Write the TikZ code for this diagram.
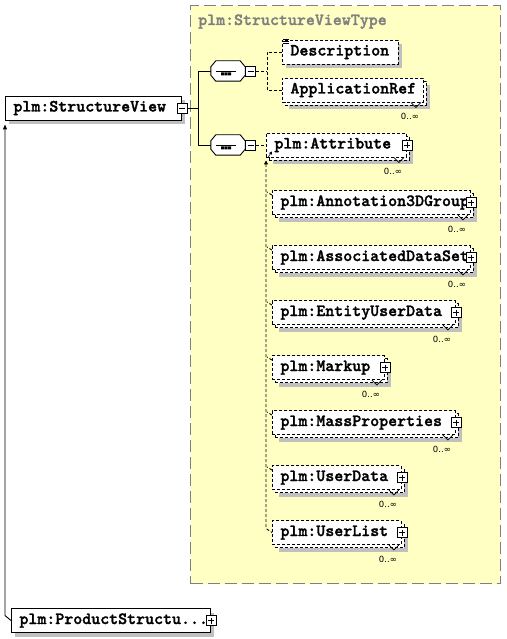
\documentclass[tikz,border=0pt]{standalone}
\usepackage{fontspec}
\newfontfamily\elemfont{lmmonolt10-bold.otf}[FakeBold=1.6]
\newfontfamily\cardfont{DejaVu Sans}
\usetikzlibrary{shadows,arrows.meta}

\definecolor{typefill}{HTML}{FFFFC4}
\definecolor{typeborder}{HTML}{808080}
\definecolor{shadowgray}{HTML}{C0C0C0}

\tikzset{
  optdash/.style={dash pattern=on 3pt off 2pt},
  elembox/.style={draw, fill=white, line width=0.9pt, minimum height=24pt,
    inner xsep=8pt, inner ysep=0pt, text height=11pt, text depth=4pt,
    text width=#1, align=left, anchor=west,
    font=\elemfont\fontsize{17.1}{18}\selectfont},
  onceelem/.style={elembox=#1,
    drop shadow={shadow xshift=4pt, shadow yshift=-4pt, opacity=1, fill=shadowgray}},
  optelem/.style={onceelem=#1, optdash},
  manyelem/.style={elembox=#1, optdash,
    drop shadow={shadow xshift=7pt, shadow yshift=-7pt, opacity=1, fill=shadowgray},
    copy shadow={shadow xshift=3pt, shadow yshift=-3pt, optdash, draw=black, fill=white}},
  togbox/.style={draw, solid, fill=white, line width=0.8pt, minimum size=10pt, inner sep=0pt},
  minusbox/.style={togbox, path picture={
    \draw[line width=0.8pt] ([xshift=2pt]path picture bounding box.west) -- ([xshift=-2pt]path picture bounding box.east);}},
  plusbox/.style={togbox, path picture={
    \draw[line width=0.8pt] ([xshift=2pt]path picture bounding box.west) -- ([xshift=-2pt]path picture bounding box.east);
    \draw[line width=0.8pt] ([yshift=-2pt]path picture bounding box.north) -- ([yshift=2pt]path picture bounding box.south);}},
  seqbox/.style={rectangle, minimum width=34pt, minimum height=20pt, inner sep=0pt},
  seqline/.style={draw, fill=white, line width=0.9pt},
  typebox/.style={draw=typeborder, fill=typefill, line width=1.3pt,
    dash pattern=on 12pt off 5pt, minimum width=310pt, minimum height=578pt, inner sep=0pt},
  typetitle/.style={text=typeborder, inner sep=0pt,
    font=\elemfont\fontsize{17.1}{18}\selectfont},
  card/.style={inner sep=0pt, font=\cardfont\fontsize{8.5}{10}\selectfont},
  notch/.style={line width=0.7pt},
  solidlink/.style={line width=0.9pt},
  optlink/.style={line width=0.9pt, optdash},
  reflink/.style={line width=0.9pt, -{Triangle[length=5pt,width=4pt]}}
}

% chamfered outline of a sequence compositor, with its shadow
\newcommand{\seqoutline}[1]{%
  \fill[shadowgray, shift={(4,4)}] ([xshift=5pt]#1.north west) -- ([xshift=-5pt]#1.north east) -- ([yshift=-6pt]#1.north east)
    -- ([yshift=6pt]#1.south east) -- ([xshift=-5pt]#1.south east) -- ([xshift=5pt]#1.south west)
    -- ([yshift=6pt]#1.south west) -- ([yshift=-6pt]#1.north west) -- cycle;
  \path[seqline] ([xshift=5pt]#1.north west) -- ([xshift=-5pt]#1.north east) -- ([yshift=-6pt]#1.north east)
    -- ([yshift=6pt]#1.south east) -- ([xshift=-5pt]#1.south east) -- ([xshift=5pt]#1.south west)
    -- ([yshift=6pt]#1.south west) -- ([yshift=-6pt]#1.north west) -- cycle;
  \draw[line width=0.9pt] ([xshift=-12pt]#1.center) -- ([xshift=8pt]#1.center);
  \fill ([shift={(-7pt,-1.5pt)}]#1.center) rectangle ++(3,3)
        ([shift={(-3.5pt,-1.5pt)}]#1.center) rectangle ++(3,3)
        ([shift={(0pt,-1.5pt)}]#1.center) rectangle ++(3,3);}

\begin{document}
\begin{tikzpicture}[x=1pt, y=-1pt]
  \useasboundingbox (0,0) rectangle (506,639);

  % Complex type area
  \node[typebox, anchor=north west] (svtype) at (190,5) {};
  \node[typetitle, anchor=base west] (svtypetitle) at (198,25) {plm:StructureViewType};

  % Root element
  \node[onceelem=160pt] (sv) at (5,108) {plm:StructureView};
  \node[minusbox] (svtog) at (sv.east) {};

  % Sequence compositors
  \node[seqbox] (seqA) at (228,71) {};
  \seqoutline{seqA}
  \node[minusbox, anchor=west] (seqAtog) at (seqA.east) {};
  \node[seqbox] (seqB) at (228,145) {};
  \seqoutline{seqB}
  \node[minusbox, anchor=west] (seqBtog) at (seqB.east) {};

  % Root to compositors
  \coordinate (svfork) at ([xshift=11pt]svtog.east);
  \draw[solidlink] (svtog.east) -- (svfork);
  \draw[solidlink] (seqA.west) -| (svfork) |- (seqB.west);

  % First sequence
  \node[optelem=100pt] (desc) at (282,52) {Description};
  \draw[line width=0.6pt] ([xshift=1pt]desc.north west) -- ++(6,0) ++(-6,2) -- ++(6,0) ++(-6,2) -- ++(6,0);
  \node[manyelem=125pt] (appref) at (282,90) {ApplicationRef};
  \draw[notch] ([xshift=-13pt]appref.south east) -- ++(5,5) -- ++(5,-5);
  \node[card] (apprefcard) at ([xshift=-14pt,yshift=-14pt]appref.south east) {0..∞};
  \coordinate (seqAfork) at ([xshift=11pt]seqAtog.east);
  \draw[optlink] (seqAtog.east) -- (seqAfork);
  \draw[optlink] (desc.west) -| (seqAfork) |- (appref.west);

  % Second sequence: abstract head
  \node[manyelem=124pt] (attr) at (266,145) {plm:Attribute};
  \node[plusbox] (attrtog) at (attr.east) {};
  \draw[notch] ([xshift=-13pt]attr.south east) -- ++(5,5) -- ++(5,-5);
  \node[card] (attrcard) at ([xshift=-14pt,yshift=-14pt]attr.south east) {0..∞};
  \draw[optlink] (seqBtog.east) -- (attr.west);
  \draw[line width=0.6pt, -{Triangle[length=3pt,width=3pt]}] ([xshift=2pt]attr.south west) -- ++(4,-6);

  % Substitution members
  \node[manyelem=182pt] (annot) at (272,202.5) {plm:Annotation3DGroup};
  \node[plusbox] (annottog) at (annot.east) {};
  \draw[notch] ([xshift=-13pt]annot.south east) -- ++(5,5) -- ++(5,-5);
  \node[card] (annotcard) at ([xshift=-14pt,yshift=-14pt]annot.south east) {0..∞};

  \node[manyelem=182pt] (assoc) at (272,257.5) {plm:AssociatedDataSet};
  \node[plusbox] (assoctog) at (assoc.east) {};
  \draw[notch] ([xshift=-13pt]assoc.south east) -- ++(5,5) -- ++(5,-5);
  \node[card] (assoccard) at ([xshift=-14pt,yshift=-14pt]assoc.south east) {0..∞};

  \node[manyelem=167pt] (entity) at (272,312.5) {plm:EntityUserData};
  \node[plusbox] (entitytog) at (entity.east) {};
  \draw[notch] ([xshift=-13pt]entity.south east) -- ++(5,5) -- ++(5,-5);
  \node[card] (entitycard) at ([xshift=-14pt,yshift=-14pt]entity.south east) {0..∞};

  \node[manyelem=96pt] (markup) at (272,367.5) {plm:Markup};
  \node[plusbox] (markuptog) at (markup.east) {};
  \draw[notch] ([xshift=-13pt]markup.south east) -- ++(5,5) -- ++(5,-5);
  \node[card] (markupcard) at ([xshift=-14pt,yshift=-14pt]markup.south east) {0..∞};

  \node[manyelem=167pt] (mass) at (272,422.5) {plm:MassProperties};
  \node[plusbox] (masstog) at (mass.east) {};
  \draw[notch] ([xshift=-13pt]mass.south east) -- ++(5,5) -- ++(5,-5);
  \node[card] (masscard) at ([xshift=-14pt,yshift=-14pt]mass.south east) {0..∞};

  \node[manyelem=113pt] (udata) at (272,477.5) {plm:UserData};
  \node[plusbox] (udatatog) at (udata.east) {};
  \draw[notch] ([xshift=-13pt]udata.south east) -- ++(5,5) -- ++(5,-5);
  \node[card] (udatacard) at ([xshift=-14pt,yshift=-14pt]udata.south east) {0..∞};

  \node[manyelem=113pt] (ulist) at (272,532.5) {plm:UserList};
  \node[plusbox] (ulisttog) at (ulist.east) {};
  \draw[notch] ([xshift=-13pt]ulist.south east) -- ++(5,5) -- ++(5,-5);
  \node[card] (ulistcard) at ([xshift=-14pt,yshift=-14pt]ulist.south east) {0..∞};

  % Substitution line back to the head
  \draw[optlink, {Triangle[length=4pt,width=4pt]}-] ([yshift=-3pt]attr.south west) -- ([xshift=-6pt,yshift=4pt]ulist.west) -- (ulist.west);
  \draw[optlink] ([yshift=-5pt]annot.north west) -- ++(-5,-3);
  \draw[optlink] ([yshift=-5pt]assoc.north west) -- ++(-5,-3);
  \draw[optlink] ([yshift=-5pt]entity.north west) -- ++(-5,-3);
  \draw[optlink] ([yshift=-5pt]markup.north west) -- ++(-5,-3);
  \draw[optlink] ([yshift=-5pt]mass.north west) -- ++(-5,-3);
  \draw[optlink] ([yshift=-5pt]udata.north west) -- ++(-5,-3);

  % Referencing element
  \node[onceelem=183pt] (prod) at (11,620.5) {plm:ProductStructu...};
  \node[plusbox] (prodtog) at (prod.east) {};
  \draw[reflink] (prod.west) -- ++(-6,-5) -- ([yshift=-4pt]sv.south west);
\end{tikzpicture}
\end{document}
